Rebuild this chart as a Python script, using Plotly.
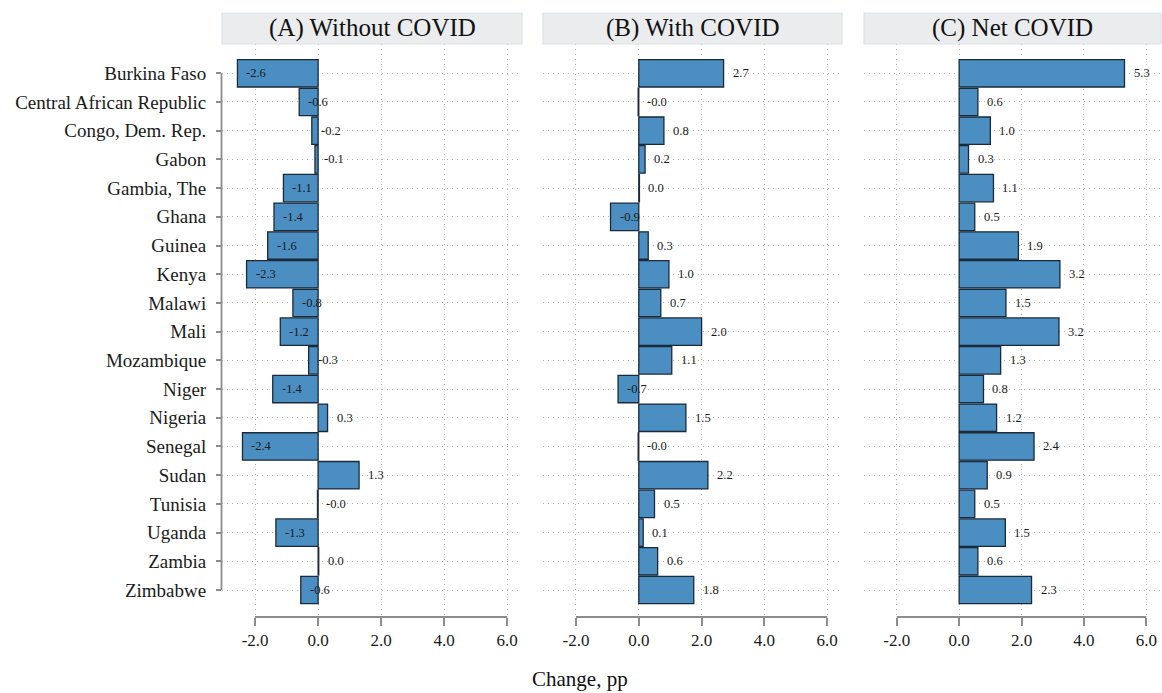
import plotly.graph_objects as go

countries = ["Burkina Faso", "Central African Republic", "Congo, Dem. Rep.", "Gabon",
             "Gambia, The", "Ghana", "Guinea", "Kenya", "Malawi", "Mali", "Mozambique",
             "Niger", "Nigeria", "Senegal", "Sudan", "Tunisia", "Uganda", "Zambia", "Zimbabwe"]

without_covid = [-2.56, -0.6, -0.2, -0.1, -1.1, -1.4, -1.6, -2.27, -0.8, -1.2, -0.3,
                 -1.44, 0.3, -2.4, 1.3, -0.02, -1.34, 0.02, -0.55]
with_covid = [2.7, -0.02, 0.8, 0.2, 0.02, -0.9, 0.3, 0.96, 0.7, 2.0, 1.05,
              -0.66, 1.5, -0.02, 2.2, 0.5, 0.14, 0.6, 1.75]
net_covid = [5.3, 0.6, 1.0, 0.3, 1.1, 0.5, 1.9, 3.23, 1.5, 3.2, 1.33,
             0.78, 1.2, 2.4, 0.9, 0.5, 1.48, 0.6, 2.32]

panel_titles = ["(A) Without COVID", "(B) With COVID", "(C) Net COVID"]
x_ticks = [-2, 0, 2, 4, 6]
x_tick_labels = ["-2.0", "0.0", "2.0", "4.0", "6.0"]
x_title = "Change, pp"

W, H = 1162, 693
FONT = "Liberation Serif"
BAR_FILL = "#4a8ec2"
BAR_LINE = "#1b2a38"
GRID = "#b4b4b4"
AXIS = "#8c8c8c"
DOTS = "1px,4px"

panels_px = [(222, 522), (543, 842), (864, 1161)]
plot_top, plot_bot = 44, 617
hdr_top = 13
y_dom = [1 - plot_bot / H, 1 - plot_top / H]
x_range = [-3.05, 6.47]
n = len(countries)
y_range = [n - 1 + 0.94, -1.02]

fig = go.Figure()
series = [without_covid, with_covid, net_covid]
shapes = []
annotations = []
for i, (vals, (x0, x1)) in enumerate(zip(series, panels_px)):
    ax = "" if i == 0 else str(i + 1)
    fig.add_trace(go.Bar(
        x=vals, y=countries, orientation="h",
        marker=dict(color=BAR_FILL, line=dict(color=BAR_LINE, width=1.3)),
        xaxis="x" + ax, yaxis="y" + ax, showlegend=False, hoverinfo="x+y",
    ))
    xa = dict(
        domain=[x0 / W, x1 / W], range=x_range, anchor="y" + ax,
        tickvals=x_ticks, ticktext=x_tick_labels,
        ticks="outside", ticklen=8, tickwidth=1.5, tickcolor=AXIS,
        showgrid=True, gridcolor=GRID, griddash=DOTS, gridwidth=1,
        zeroline=False, showline=False,
        tickfont=dict(family=FONT, size=17, color="#1a1a1a"),
        fixedrange=True,
    )
    ya = dict(
        domain=y_dom, anchor="x" + ax, type="category",
        categoryorder="array", categoryarray=countries, range=y_range,
        showgrid=True, gridcolor=GRID, griddash=DOTS, gridwidth=1,
        zeroline=False, showline=False, fixedrange=True,
    )
    if i == 0:
        ya.update(ticks="outside", ticklen=5, tickwidth=1.5, tickcolor=AXIS,
                  showticklabels=True, ticklabelstandoff=6,
                  tickfont=dict(family=FONT, size=19, color="#1a1a1a"))
    else:
        ya.update(ticks="", showticklabels=False, matches="y")
    fig.update_layout(**{"xaxis" + ax: xa, "yaxis" + ax: ya})

    # bottom axis line from first to last tick
    shapes.append(dict(type="line", xref="x" + ax, yref="paper",
                       x0=x_ticks[0], x1=x_ticks[-1], y0=y_dom[0], y1=y_dom[0],
                       line=dict(color=AXIS, width=1.8), layer="above"))
    # header box
    shapes.append(dict(type="rect", xref="paper", yref="paper",
                       x0=x0 / W, x1=x1 / W, y0=1 - plot_top / H, y1=1 - hdr_top / H,
                       fillcolor="#eaeced", line=dict(color="#dde3e8", width=1.2),
                       layer="above"))
    annotations.append(dict(text=panel_titles[i], xref="paper", yref="paper",
                            x=(x0 + x1) / 2 / W, y=1 - (hdr_top + plot_top) / 2 / H,
                            xanchor="center", yanchor="middle", showarrow=False,
                            font=dict(family=FONT, size=25, color="#111111")))
    # value labels
    for c, v in zip(countries, vals):
        annotations.append(dict(text=f"{v:.1f}", x=v, y=c, xref="x" + ax, yref="y" + ax,
                                xanchor="left", yanchor="middle", xshift=7,
                                showarrow=False,
                                font=dict(family=FONT, size=12.5, color="#1a1a1a")))

# left y axis line between first and last category
shapes.append(dict(type="line", xref="paper", yref="y",
                   x0=221.5 / W, x1=221.5 / W, y0=countries[0], y1=countries[-1],
                   line=dict(color=AXIS, width=1.8), layer="above"))

annotations.append(dict(text=x_title, xref="paper", yref="paper",
                        x=580 / W, y=1 - 679 / H, xanchor="center", yanchor="middle",
                        showarrow=False, font=dict(family=FONT, size=21, color="#111111")))

fig.update_layout(
    width=W, height=H, margin=dict(l=0, r=0, t=0, b=0),
    paper_bgcolor="white", plot_bgcolor="white",
    bargap=0.045, shapes=shapes, annotations=annotations,
)

fig.write_html("out.html", config={"displayModeBar": False},
               post_script="document.body.style.margin='0';document.body.style.overflow='hidden';")
